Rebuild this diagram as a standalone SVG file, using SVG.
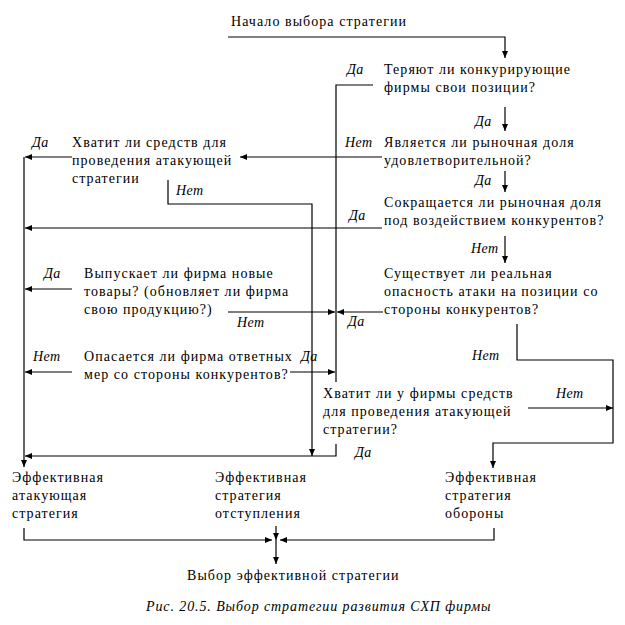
<svg xmlns="http://www.w3.org/2000/svg" width="625" height="625" viewBox="0 0 625 625" font-family="'Liberation Serif', 'DejaVu Serif', serif">
<style>
text{font-family:'Liberation Serif','DejaVu Serif',serif;font-size:14px;fill:#000;letter-spacing:1.05px}
.l{font-style:italic;letter-spacing:0.4px}
.cap{font-style:italic;font-size:14px;letter-spacing:0.9px}
.c{fill:none;stroke:#000;stroke-width:1.2}
</style>
<defs>
<marker id="a" viewBox="0 0 7 6" refX="7" refY="3" markerWidth="7" markerHeight="6" markerUnits="userSpaceOnUse" orient="auto">
<path d="M0,0 L7,3 L0,6 z" fill="#000"/>
</marker>
</defs>
<rect width="625" height="625" fill="#fff"/>
<g id="connectors">
<path class="c" d="M228,37 H505 V58" marker-end="url(#a)"/>
<path class="c" d="M373,85 H336 V382"/>
<path class="c" d="M505,107 V131" marker-end="url(#a)"/>
<path class="c" d="M382,157 H240" marker-end="url(#a)"/>
<path class="c" d="M505,171 V192" marker-end="url(#a)"/>
<path class="c" d="M72,157 H25" marker-end="url(#a)"/>
<path class="c" d="M168,180 V204 H312 V456" marker-end="url(#a)"/>
<path class="c" d="M24,157 V467" marker-end="url(#a)"/>
<path class="c" d="M382,228 H25" marker-end="url(#a)"/>
<path class="c" d="M505,236 V263" marker-end="url(#a)"/>
<path class="c" d="M72,289 H25" marker-end="url(#a)"/>
<path class="c" d="M228,312 H335" marker-end="url(#a)"/>
<path class="c" d="M383,312 H337" marker-end="url(#a)"/>
<path class="c" d="M72,372 H25" marker-end="url(#a)"/>
<path class="c" d="M290,372 H335" marker-end="url(#a)"/>
<path class="c" d="M517,324 V360 H613 V443 H493 V468" marker-end="url(#a)"/>
<path class="c" d="M528,408 H613" marker-end="url(#a)"/>
<path class="c" d="M336,444 V456 H25" marker-end="url(#a)"/>
<path class="c" d="M24,528 V540 H272" marker-end="url(#a)"/>
<path class="c" d="M494,528 V540 H280" marker-end="url(#a)"/>
<path class="c" d="M276,526 V540" marker-end="url(#a)"/>
<path class="c" d="M276,540 V564" marker-end="url(#a)"/>
</g>
<g id="labels">
<text class="l" x="347" y="74">Да</text>
<text class="l" x="475" y="126">Да</text>
<text class="l" x="345" y="147">Нет</text>
<text class="l" x="32" y="147">Да</text>
<text class="l" x="176" y="195">Нет</text>
<text class="l" x="475" y="185">Да</text>
<text class="l" x="349" y="220">Да</text>
<text class="l" x="471" y="253">Нет</text>
<text class="l" x="44" y="278">Да</text>
<text class="l" x="237" y="327">Нет</text>
<text class="l" x="348" y="326">Да</text>
<text class="l" x="33" y="361">Нет</text>
<text class="l" x="301" y="361">Да</text>
<text class="l" x="472" y="360">Нет</text>
<text class="l" x="556" y="398">Нет</text>
<text class="l" x="355" y="457">Да</text>
</g>
<g id="start"><text x="231" y="26">Начало выбора стратегии</text></g>
<g id="q1"><text x="384" y="74">Теряют ли конкурирующие</text><text x="384" y="92">фирмы свои позиции?</text></g>
<g id="q2"><text x="384" y="147">Является ли рыночная доля</text><text x="384" y="165">удовлетворительной?</text></g>
<g id="q3"><text x="72" y="147">Хватит ли средств для</text><text x="72" y="165">проведения атакующей</text><text x="72" y="183">стратегии</text></g>
<g id="q4"><text x="384" y="207">Сокращается ли рыночная доля</text><text x="384" y="225">под воздействием конкурентов?</text></g>
<g id="q5"><text x="84" y="278">Выпускает ли фирма новые</text><text x="84" y="296">товары? (обновляет ли фирма</text><text x="84" y="314">свою продукцию?)</text></g>
<g id="q6"><text x="384" y="278">Существует ли реальная</text><text x="384" y="296">опасность атаки на позиции со</text><text x="384" y="314">стороны конкурентов?</text></g>
<g id="q7"><text x="84" y="361">Опасается ли фирма ответных</text><text x="84" y="379">мер со стороны конкурентов?</text></g>
<g id="q8"><text x="323" y="398">Хватит ли у фирмы средств</text><text x="323" y="416">для проведения атакующей</text><text x="323" y="434">стратегии?</text></g>
<g id="r1"><text x="12" y="482">Эффективная</text><text x="12" y="500">атакующая</text><text x="12" y="518">стратегия</text></g>
<g id="r2"><text x="215" y="482">Эффективная</text><text x="215" y="500">стратегия</text><text x="215" y="518">отступления</text></g>
<g id="r3"><text x="445" y="482">Эффективная</text><text x="445" y="500">стратегия</text><text x="445" y="518">обороны</text></g>
<g id="end"><text x="187" y="580">Выбор эффективной стратегии</text></g>
<g id="caption"><text class="cap" x="146" y="611">Рис. 20.5. Выбор стратегии развития СХП фирмы</text></g>
</svg>
